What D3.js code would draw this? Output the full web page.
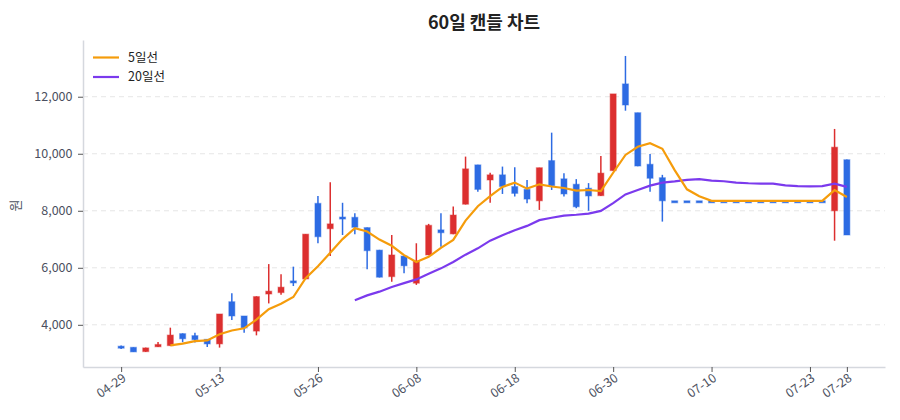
<!DOCTYPE html>
<html>
<head>
<meta charset="utf-8">
<script src="https://cdn.jsdelivr.net/npm/d3@7"></script>
<style>
  body { margin: 0; background: #fff; }
  text { font-family: "Noto Sans CJK KR", "Noto Sans", sans-serif; }
</style>
</head>
<body>
<div id="chart"></div>
<script>
// chart data
var dates = [
    "04-29", "04-30", "05-02", "05-06", "05-07", "05-08", "05-09", "05-12", "05-13",
    "05-14", "05-15", "05-16", "05-19", "05-20", "05-21", "05-23", "05-26",
    "05-27", "05-28", "05-29", "05-30", "06-02", "06-04", "06-05", "06-08",
    "06-09", "06-10", "06-11", "06-12", "06-13", "06-16", "06-17", "06-18",
    "06-19", "06-20", "06-23", "06-24", "06-25", "06-26", "06-27", "06-30",
    "07-01", "07-02", "07-03", "07-04", "07-07", "07-08", "07-09", "07-10",
    "07-11", "07-14", "07-15", "07-16", "07-17", "07-18", "07-21", "07-23",
    "07-24", "07-25", "07-28"
];
var opens = [
    3250, 3210, 3060, 3230, 3270, 3690, 3620, 3490, 3330, 4810,
    4310, 3780, 5080, 5130, 5540, 5610, 8260, 7370, 7780, 7770,
    7410, 6620, 5690, 6410, 5460, 6450, 7330, 7190, 8230, 9610,
    9080, 9260, 8850, 8750, 8350, 9760, 9120, 8930, 8790, 8530,
    9410, 12450, 11440, 9630, 9160, 8350, 8350, 8350, 8350, 8350,
    8350, 8350, 8350, 8350, 8350, 8350, 8350, 8350, 8000, 9790
];
var highs = [
    3270, 3210, 3200, 3400, 3900, 3700, 3720, 3500, 4380, 5110,
    4310, 5000, 6130, 5770, 6040, 7180, 8520, 9000, 8280, 7910,
    7410, 6630, 7150, 6420, 6860, 7540, 7910, 8150, 9900, 9610,
    9330, 9550, 9530, 9080, 9510, 10740, 9320, 9110, 8970, 9920,
    12100, 13430, 11440, 9990, 9260, 8350, 8350, 8350, 8350, 8350,
    8350, 8350, 8350, 8350, 8350, 8350, 8350, 8350, 10870, 9800
];
var lows = [
    3150, 3050, 3050, 3220, 3260, 3390, 3380, 3220, 3200, 4170,
    3720, 3630, 4750, 5050, 5360, 5600, 6860, 6410, 7150, 7180,
    5950, 5660, 5510, 5810, 5400, 6440, 6740, 7180, 8220, 8670,
    8280, 8590, 8500, 8260, 8030, 8730, 8500, 8090, 8000, 8520,
    9400, 11510, 9560, 8670, 7620, 8350, 8350, 8350, 8350, 8350,
    8350, 8350, 8350, 8350, 8350, 8350, 8350, 8350, 6950, 7150
];
var closes = [
    3190, 3050, 3190, 3310, 3640, 3510, 3480, 3330, 4380, 4310,
    3890, 4990, 5180, 5320, 5500, 7180, 7090, 7540, 7720, 7420,
    6600, 5670, 6450, 6070, 6240, 7490, 7230, 7850, 9470, 8750,
    9260, 8850, 8610, 8410, 9510, 8880, 8590, 8140, 8520, 9320,
    12100, 11710, 9570, 9140, 8350, 8350, 8350, 8350, 8350, 8350,
    8350, 8350, 8350, 8350, 8350, 8350, 8350, 8350, 10230, 7150
];
var xTickLabels = ["04-29", "05-13", "05-26", "06-08", "06-18", "06-30", "07-10", "07-23", "07-28"];
var yTicks = [4000, 6000, 8000, 10000, 12000];

var svgWidth = 900;
var svgHeight = 420;

var margin = { top: 40, right: 15, bottom: 53, left: 83 };
var width = svgWidth - margin.left - margin.right;
var height = svgHeight - margin.top - margin.bottom;

var upColor = "#dc2f2f";
var downColor = "#2d6be3";
var tickTextColor = "#4b5060";

var svg = d3.select("#chart")
    .append("svg")
    .attr("width", svgWidth)
    .attr("height", svgHeight);

var chart = svg.append("g")
    .attr("transform", `translate(${margin.left}, ${margin.top})`);

// scales
var xScale = d3.scalePoint()
    .domain(dates)
    .range([0, width])
    .padding(3.1);

var yScale = d3.scaleLinear()
    .domain([2520, 13990])
    .range([height, 0]);

// gridlines
chart.selectAll(".grid")
    .data(yTicks)
    .enter()
    .append("line")
    .attr("x1", 0)
    .attr("x2", width)
    .attr("y1", d => yScale(d))
    .attr("y2", d => yScale(d))
    .attr("stroke", "#e6e6e6")
    .attr("stroke-dasharray", "5,4");

// axes
var bottomAxis = d3.axisBottom(xScale)
    .tickValues(xTickLabels)
    .tickSize(5)
    .tickSizeOuter(0);
var leftAxis = d3.axisLeft(yScale)
    .tickValues(yTicks)
    .tickFormat(d3.format(","))
    .tickSize(5)
    .tickSizeOuter(0);

var xAxisG = chart.append("g")
    .attr("transform", `translate(0, ${height})`)
    .call(bottomAxis);
xAxisG.select(".domain").attr("stroke", "#d5d8de").attr("stroke-width", 1.5);
xAxisG.selectAll(".tick line").attr("stroke", "#555");
xAxisG.selectAll("text")
    .style("font-size", "12.5px")
    .attr("fill", tickTextColor)
    .attr("text-anchor", "end")
    .attr("dx", "-0.25em")
    .attr("dy", "0.45em")
    .attr("transform", "rotate(-35)");

var yAxisG = chart.append("g").call(leftAxis);
yAxisG.select(".domain").attr("stroke", "#d5d8de").attr("stroke-width", 1.5);
yAxisG.selectAll(".tick line").attr("stroke", "#555");
yAxisG.selectAll("text")
    .style("font-size", "12.5px")
    .attr("fill", tickTextColor)
    .attr("dx", "-0.2em");

// candles
var candles = dates.map(function (d, i) {
    return { date: d, open: opens[i], high: highs[i], low: lows[i], close: closes[i] };
});
var candleColor = d => d.close > d.open ? upColor : downColor;

chart.selectAll(".wick")
    .data(candles)
    .enter()
    .append("line")
    .attr("x1", d => xScale(d.date))
    .attr("x2", d => xScale(d.date))
    .attr("y1", d => yScale(d.high))
    .attr("y2", d => yScale(d.low))
    .attr("stroke", candleColor)
    .attr("stroke-width", 1.5);

chart.selectAll(".body")
    .data(candles)
    .enter()
    .append("rect")
    .attr("x", d => xScale(d.date) - 3)
    .attr("width", 6)
    .attr("y", d => yScale(Math.max(d.open, d.close)))
    .attr("height", d => Math.max(2, Math.abs(yScale(d.open) - yScale(d.close))))
    .attr("fill", candleColor)
    .attr("stroke", candleColor)
    .attr("stroke-opacity", 0.4)
    .attr("stroke-width", 1.2);

// moving averages from the closes
function movingAvg(n) {
    return dates.map(function (d, i) {
        if (i < n - 1) return null;
        return { date: d, value: d3.mean(closes.slice(i - n + 1, i + 1)) };
    }).filter(d => d);
}
var ma5 = movingAvg(5);
var ma20 = movingAvg(20);

var maLine = d3.line()
    .x(d => xScale(d.date))
    .y(d => yScale(d.value));

chart.append("path")
    .datum(ma20)
    .attr("d", maLine)
    .attr("fill", "none")
    .attr("stroke", "#7b3aed")
    .attr("stroke-width", 2.2);

chart.append("path")
    .datum(ma5)
    .attr("d", maLine)
    .attr("fill", "none")
    .attr("stroke", "#f59c0b")
    .attr("stroke-width", 2.2);

// legend
var legendItems = [
    { label: "5일선", color: "#f59c0b" },
    { label: "20일선", color: "#7b3aed" }
];
var legend = chart.selectAll(".legend")
    .data(legendItems)
    .enter()
    .append("g")
    .attr("transform", (d, i) => `translate(10, ${17.5 + i * 19.5})`);
legend.append("line")
    .attr("x1", 0)
    .attr("x2", 26)
    .attr("stroke", d => d.color)
    .attr("stroke-width", 2.2);
legend.append("text")
    .attr("x", 35)
    .attr("dy", "0.35em")
    .style("font-size", "12.5px")
    .attr("fill", "#222")
    .text(d => d.label);

// title and y label
svg.append("text")
    .attr("x", margin.left + width / 2)
    .attr("y", 29)
    .attr("text-anchor", "middle")
    .style("font-size", "18px")
    .style("font-weight", "bold")
    .attr("fill", "#222")
    .text("60일 캔들 차트");

svg.append("text")
    .attr("transform", `translate(20, ${margin.top + height / 2 + 2}) rotate(-90)`)
    .attr("text-anchor", "middle")
    .style("font-size", "13px")
    .attr("fill", tickTextColor)
    .text("원");
</script>
</body>
</html>
